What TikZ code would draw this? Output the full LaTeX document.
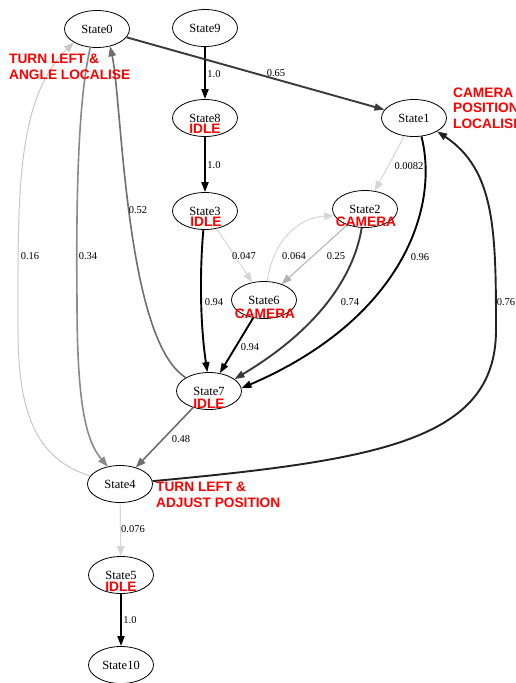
\documentclass[tikz,border=0pt]{standalone}
\usepackage{fontspec}
\setmainfont{Liberation Serif}
\newfontfamily\redfont{Liberation Sans}
\usetikzlibrary{shapes.geometric,arrows.meta}
\definecolor{dk}{HTML}{3A3A3A}
\definecolor{dk2}{HTML}{222222}
\definecolor{md}{HTML}{6E6E6E}
\definecolor{md2}{HTML}{8A8A8A}
\definecolor{gr}{HTML}{B0B0B0}
\definecolor{lt}{HTML}{D6D6D6}
\definecolor{lt2}{HTML}{C8C8C8}
\begin{document}
\begin{tikzpicture}[x=1pt,y=-1pt,
  st/.style={ellipse,draw,line width=0.8pt,minimum width=65pt,minimum height=37pt,inner sep=0pt,font=\fontsize{12.5}{14}\selectfont},
  rl/.style={text=red,font=\redfont\bfseries\fontsize{13.7}{15.5}\selectfont,inner sep=0pt,align=left},
  el/.style={font=\fontsize{10.5}{12}\selectfont,inner sep=0pt},
  heavy/.style={line width=1.9pt,-{Triangle[length=10pt,width=7pt]}},
  medium/.style={line width=1.6pt,-{Triangle[length=10pt,width=7.5pt]}},
  light/.style={line width=1.0pt,-{Triangle[length=10pt,width=7.5pt]}}
]
\fill[white] (0,0) rectangle (515,683);
\useasboundingbox (0,0) rectangle (515,683);

% nodes
\node[st] (s0) at (97,29) {State0};
\node[st] (s9) at (205,28) {State9};
\node[st] (s8) at (205,118) {State8};
\node[st] (s1) at (414,118) {State1};
\node[st] (s3) at (205,211) {State3};
\node[st] (s2) at (365,209) {State2};
\node[st] (s6) at (264,300) {State6};
\node[st] (s7) at (209,391) {State7};
\node[st] (s4) at (120,484) {State4};
\node[st] (s5) at (121,575) {State5};
\node[st] (s10) at (121,665) {State10};

% edges
\draw[heavy,black] (s9) -- (s8);
\draw[heavy,black] (s8) -- (s3);
\draw[heavy,dk] (s0) -- (s1);
\draw[light,lt] (s1) -- (s2);
\draw[heavy,black] (s1.-68) .. controls (440,210) and (400,320) .. (s7.5);
\draw[light,gr] (s2) -- (s6);
\draw[light,lt] (s6.80) .. controls (272,245) and (295,218) .. (s2.192);
\draw[light,lt] (s3) -- (s6);
\draw[heavy,black] (s3.-95) .. controls (199,280) and (201,330) .. (s7.95);
\draw[heavy,black] (s6) -- (s7);
\draw[heavy,dk] (s2.-100) .. controls (355,270) and (325,325) .. (s7.25);
\draw[medium,md] (s7.150) .. controls (125,340) and (122,100) .. (s0.-53);
\draw[medium,md2] (s0.-110) .. controls (78,100) and (76,200) .. (77,300) .. controls (77,400) and (85,440) .. (s4.125);
\draw[light,lt2] (s4.165) .. controls (40,460) and (18,420) .. (18,330) .. controls (18,200) and (15,100) .. (s0.-150);
\draw[medium,md] (s7) -- (s4);
\draw[heavy,dk2] (s4.5) .. controls (380,460) and (496,440) .. (496,330) .. controls (496,230) and (495,170) .. (s1.-30);
\draw[light,lt] (s4) -- (s5);
\draw[heavy,black] (s5) -- (s10);

% edge labels
\node[el] (l1) at (214,74) {1.0};
\node[el] (l2) at (276,73) {0.65};
\node[el] (l3) at (214,165) {1.0};
\node[el] (l4) at (409,166) {0.0082};
\node[el] (l5) at (244,256) {0.047};
\node[el] (l6) at (294,256) {0.064};
\node[el] (l7) at (336,256) {0.25};
\node[el] (l8) at (138,210) {0.52};
\node[el] (l9) at (88,256) {0.34};
\node[el] (l10) at (30,256) {0.16};
\node[el] (l11) at (420,257) {0.96};
\node[el] (l12) at (214,302) {0.94};
\node[el] (l13) at (350,302) {0.74};
\node[el] (l14) at (250,347) {0.94};
\node[el] (l15) at (506,302) {0.76};
\node[el] (l16) at (181,439) {0.48};
\node[el] (l17) at (133,529) {0.076};
\node[el] (l18) at (130,620) {1.0};

% red labels
\node[rl,anchor=west] (r0) at (9,67) {TURN LEFT \&\\ANGLE LOCALISE};
\node[rl,anchor=west] (r1) at (453,108) {CAMERA\\POSITION\\LOCALISE};
\node[rl,anchor=west] (r4) at (156,495) {TURN LEFT \&\\ADJUST POSITION};
\node[rl] (r8) at (205,129) {IDLE};
\node[rl] (r3) at (206,222) {IDLE};
\node[rl] (r2) at (366,222) {CAMERA};
\node[rl] (r6) at (265,314) {CAMERA};
\node[rl] (r7) at (209,404) {IDLE};
\node[rl] (r5) at (121,587) {IDLE};
\end{tikzpicture}
\end{document}
